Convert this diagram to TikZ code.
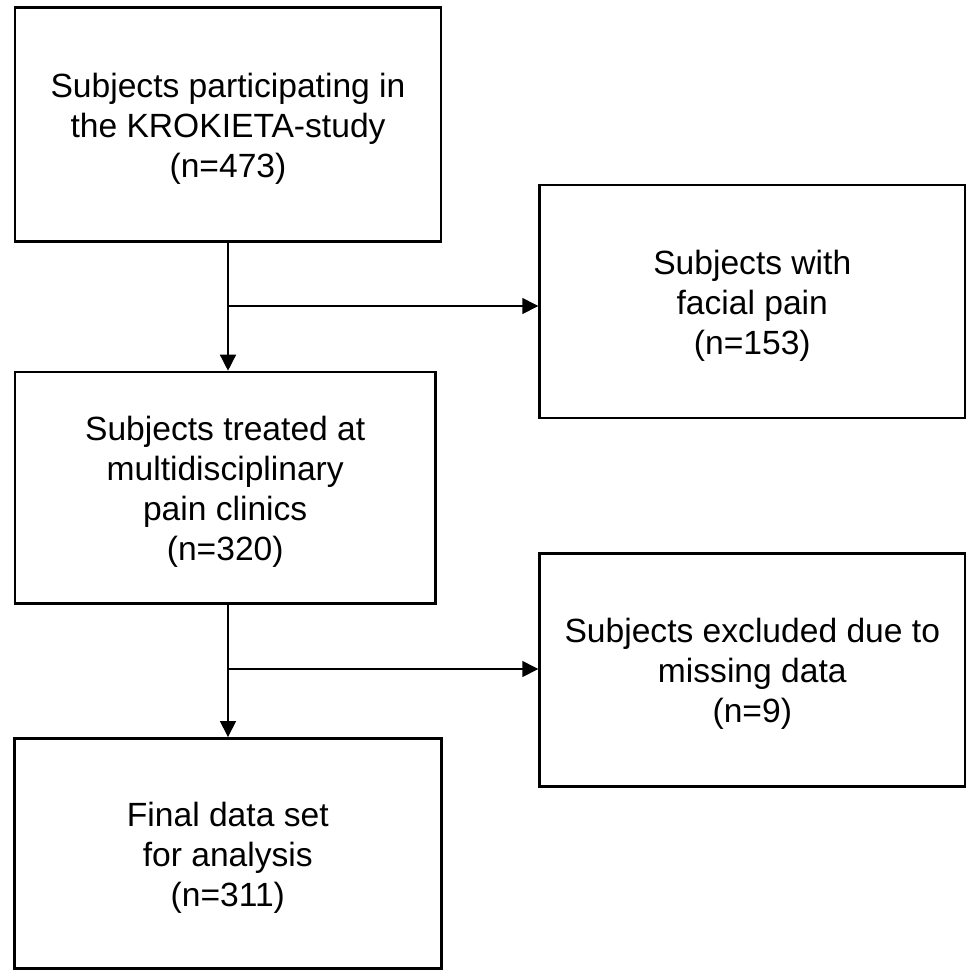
\documentclass[tikz,border=0pt]{standalone}
\usepackage{fontspec}
\setmainfont{Liberation Sans}
\usetikzlibrary{arrows.meta}
\tikzset{
  flowbox/.style={draw=black, line width=2.7pt, inner sep=0pt},
  boxtext/.style={align=center, inner sep=0pt, yshift=-4pt,
    font=\fontsize{33.6}{40}\selectfont},
  conn/.style={line width=1.4pt, -{Triangle[length=16pt,width=16pt]}}
}
\begin{document}
\begin{tikzpicture}[x=1pt,y=-1pt]
\useasboundingbox (0,0) rectangle (966,970);
\node[flowbox, minimum width=426pt, minimum height=234pt] (b1) at (228,124.7) {};
\node[boxtext] (t1) at (b1.center) {Subjects participating in\\the KROKIETA-study\\(n=473)};
\node[flowbox, minimum width=425.3pt, minimum height=233pt] (b2) at (752.3,301.5) {};
\node[boxtext] (t2) at (b2.center) {Subjects with\\facial pain\\(n=153)};
\node[flowbox, minimum width=420.3pt, minimum height=231.3pt] (b3) at (225.2,487.7) {};
\node[boxtext] (t3) at (b3.center) {Subjects treated at\\multidisciplinary\\pain clinics\\(n=320)};
\node[flowbox, minimum width=425.3pt, minimum height=233.4pt] (b4) at (752.3,670) {};
\node[boxtext] (t4) at (b4.center) {Subjects excluded due to\\missing data\\(n=9)};
\node[flowbox, minimum width=427pt, minimum height=230pt] (b5) at (227.8,853.4) {};
\node[boxtext] (t5) at (b5.center) {Final data set\\for analysis\\(n=311)};
\coordinate (j1) at (228,306);
\coordinate (j2) at (228,669);
\draw[conn] (b1.south) -- (b1.south |- b3.north);
\draw[conn] (j1) -- (j1 -| b2.west);
\draw[conn] (j2 |- b3.south) -- (j2 |- b5.north);
\draw[conn] (j2) -- (j2 -| b4.west);
\end{tikzpicture}
\end{document}
